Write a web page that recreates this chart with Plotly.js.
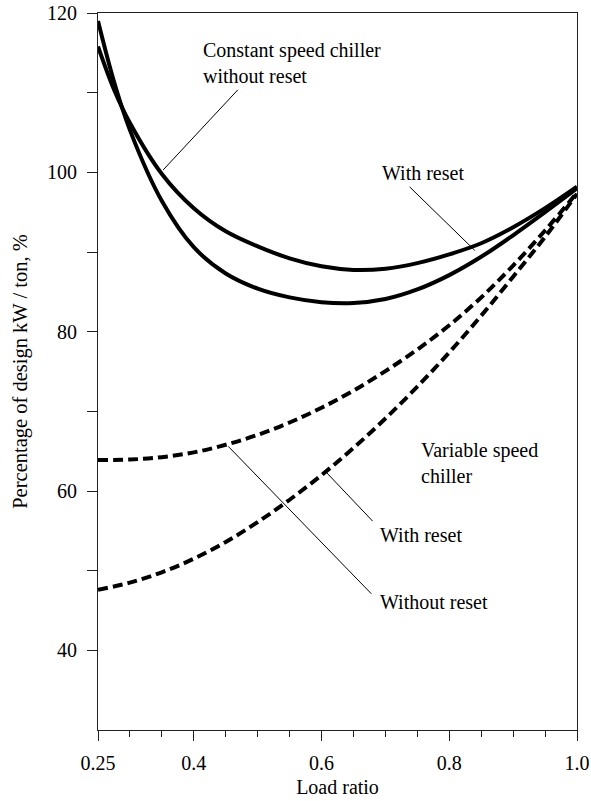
<!DOCTYPE html>
<html>
<head>
<meta charset="utf-8">
<script src="https://cdn.plot.ly/plotly-3.0.1.min.js"></script>
<style>html,body{margin:0;padding:0;background:#fff;}#chart{width:591px;height:801px;}</style>
</head>
<body>
<div id="chart"></div>
<script>
// Load ratio samples
const loadRatio = [0.25, 0.275, 0.30, 0.35, 0.40, 0.45, 0.50, 0.55, 0.60, 0.65, 0.70, 0.75, 0.80, 0.85, 0.90, 0.95, 1.00];
// Constant speed chiller (percentage of design kW/ton)
const constNoReset   = [115.8, 110.4, 106.2, 99.8, 95.5, 92.6, 90.7, 89.2, 88.2, 87.75, 87.9, 88.6, 89.7, 91.1, 93.1, 95.5, 98.2];
const constWithReset = [119.0, 111.4, 105.3, 96.4, 90.6, 87.3, 85.4, 84.3, 83.7, 83.6, 84.1, 85.3, 87.1, 89.4, 92.1, 95.0, 98.0];
// Variable speed chiller
const varRatio = [0.25, 0.30, 0.35, 0.40, 0.45, 0.50, 0.55, 0.60, 0.65, 0.70, 0.75, 0.80, 0.85, 0.90, 0.95, 1.00];
const varNoReset   = [63.9, 63.95, 64.25, 64.85, 65.8, 67.05, 68.6, 70.45, 72.6, 75.05, 77.75, 80.8, 84.3, 88.3, 92.7, 97.45];
const varWithReset = [47.6, 48.5, 49.8, 51.5, 53.6, 56.1, 58.9, 62.0, 65.4, 69.1, 73.1, 77.4, 82.0, 86.9, 91.9, 97.3];
// Axis ticks
const xTickVals = [0.25, 0.4, 0.6, 0.8, 1.0];
const xTickText = ['0.25', '0.4', '0.6', '0.8', '1.0'];
const xMinorVals = [0.30, 0.35, 0.45, 0.50, 0.55, 0.65, 0.70, 0.75, 0.85, 0.90, 0.95];
const yTickVals = [40, 60, 80, 100, 120];
const yMinorVals = [50, 70, 90, 110];
// Labels
const labels = [
  {text: 'Constant speed chiller<br>without reset', x: 0.411, y: 113.75},
  {text: 'With reset', x: 0.692, y: 99.93},
  {text: 'Variable speed<br>chiller', x: 0.752, y: 63.56},
  {text: 'With reset', x: 0.688, y: 54.47},
  {text: 'Without reset', x: 0.688, y: 46.1}
];
// Leader lines [x0, y0, x1, y1]
const leaders = [
  [0.469, 110.36, 0.352, 100.3],
  [0.738, 98.17, 0.840, 90.2],
  [0.608, 62.3, 0.680, 56.22],
  [0.454, 65.6, 0.678, 47.10]
];

const FONT = 'Liberation Serif, Times New Roman, serif';
const solid = {color: '#000', width: 4, shape: 'spline', smoothing: 1};
const dashed = {color: '#000', width: 4, shape: 'spline', smoothing: 1, dash: '10px,5px'};

const traces = [
  {x: loadRatio, y: constNoReset, mode: 'lines', line: solid, name: 'Constant speed, without reset'},
  {x: loadRatio, y: constWithReset, mode: 'lines', line: solid, name: 'Constant speed, with reset'},
  {x: varRatio, y: varNoReset, mode: 'lines', line: dashed, name: 'Variable speed, without reset'},
  {x: varRatio, y: varWithReset, mode: 'lines', line: dashed, name: 'Variable speed, with reset'}
];

const layout = {
  width: 591, height: 801,
  margin: {l: 98, r: 14, t: 13, b: 71},
  paper_bgcolor: '#fff', plot_bgcolor: '#fff',
  showlegend: false,
  font: {family: FONT, size: 20, color: '#000'},
  xaxis: {
    range: [0.25, 1.0],
    tickmode: 'array', tickvals: xTickVals, ticktext: xTickText,
    ticks: 'outside', ticklen: 10, tickcolor: '#222', tickwidth: 1,
    ticklabelstandoff: 5,
    minor: {ticks: 'outside', tickmode: 'array', tickvals: xMinorVals, ticklen: 6, tickcolor: '#222', tickwidth: 1},
    showline: true, linecolor: '#222', linewidth: 1, mirror: true,
    showgrid: false, zeroline: false,
    tickfont: {family: FONT, size: 20, color: '#000'},
    title: {text: 'Load ratio', font: {family: FONT, size: 20, color: '#000'}, standoff: 6}
  },
  yaxis: {
    range: [30, 120],
    tickmode: 'array', tickvals: yTickVals,
    ticks: 'outside', ticklen: 10, tickcolor: '#222', tickwidth: 1,
    ticklabelstandoff: 6,
    minor: {ticks: 'outside', tickmode: 'array', tickvals: yMinorVals, ticklen: 10, tickcolor: '#222', tickwidth: 1},
    showline: true, linecolor: '#222', linewidth: 1, mirror: true,
    showgrid: false, zeroline: false,
    tickfont: {family: FONT, size: 20, color: '#000'},
    title: {text: 'Percentage of design kW / ton, %', font: {family: FONT, size: 20.5, color: '#000'}, standoff: 13}
  },
  annotations: labels.map(l => ({
    text: l.text, x: l.x, y: l.y, xref: 'x', yref: 'y',
    showarrow: false, xanchor: 'left', yanchor: 'middle', align: 'left',
    font: {family: FONT, size: 20, color: '#000'}
  })),
  shapes: leaders.map(s => ({
    type: 'line', xref: 'x', yref: 'y', x0: s[0], y0: s[1], x1: s[2], y1: s[3],
    line: {color: '#000', width: 1}
  }))
};

Plotly.newPlot('chart', traces, layout, {displayModeBar: false, staticPlot: true});
</script>
</body>
</html>
